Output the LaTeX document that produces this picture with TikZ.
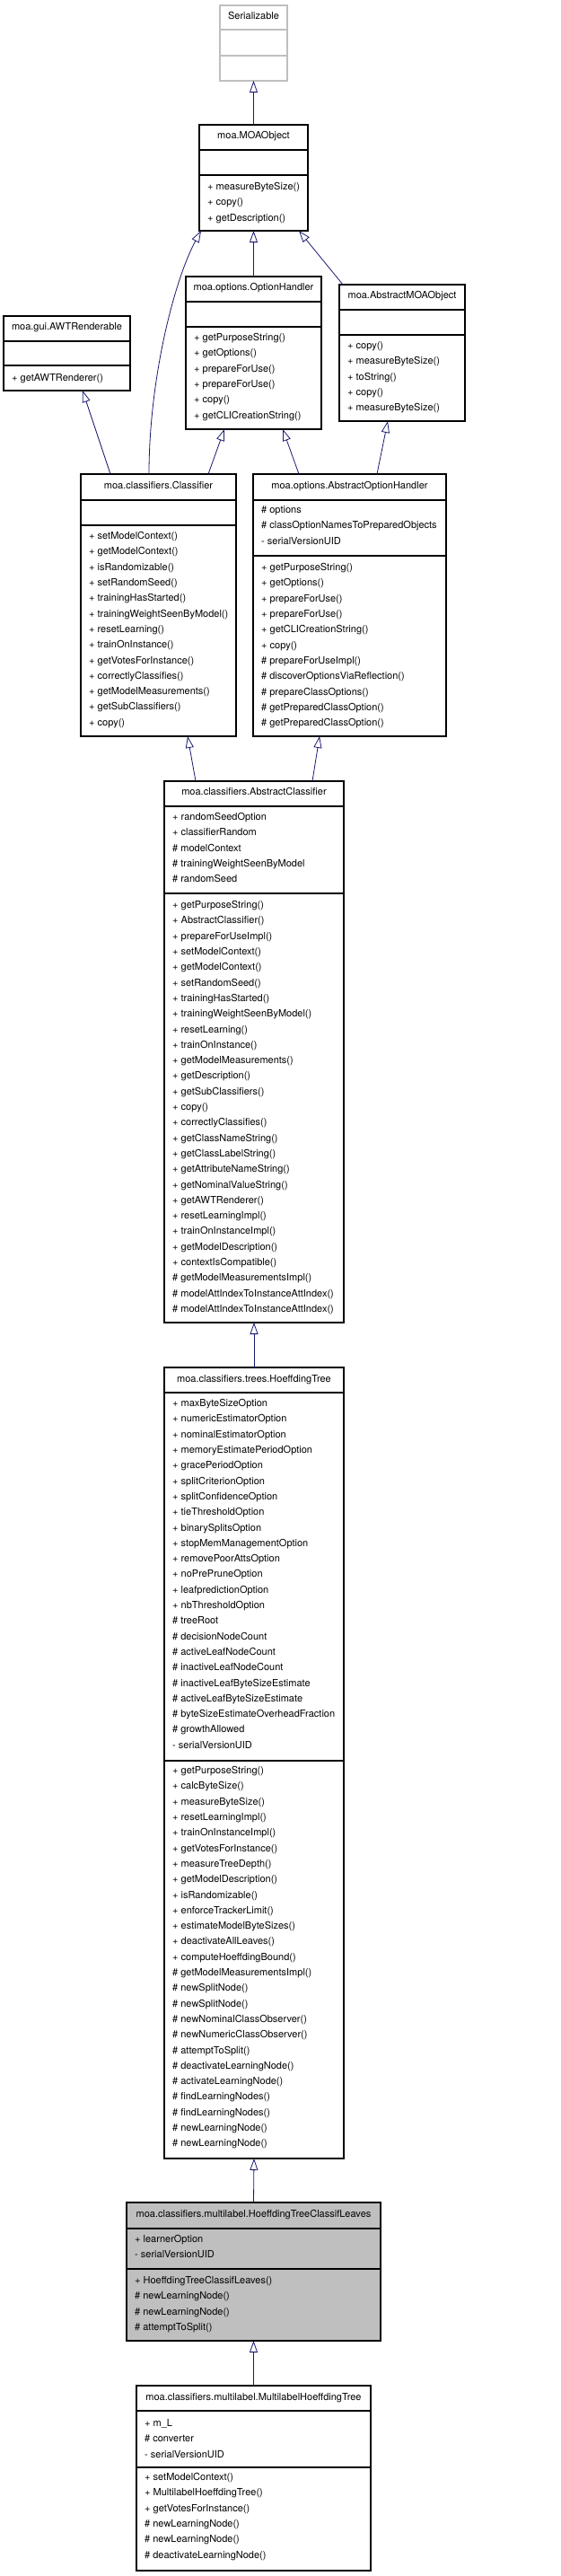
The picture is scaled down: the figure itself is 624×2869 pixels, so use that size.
\documentclass[tikz,border=0pt]{standalone}
\usepackage{fontspec}
\setmainfont{TeX Gyre Heros}
\usetikzlibrary{arrows.meta}
\definecolor{edgeblue}{HTML}{191970}
\definecolor{greyseventyfive}{HTML}{BFBFBF}
\newcommand\umlbox[6]{\node[cbox,#6,minimum width={#4-#2},minimum height={#5-#3}] (#1) at ({(#2+#4)/2},{(#3+#5)/2}) {};}
\newcommand\divline[4][black]{\draw[divl,draw=#1] (#2,#4) -- (#3,#4);}
\newcommand\umltitle[4]{\node[ttext] (#1) at (#2,#3) {#4};}
\newcommand\members[4]{\foreach \t [count=\i] in {#4} {\node[mtext] (#1\i) at (#2,{#3+(\i-1)*17.3}) {\t};}}
\begin{document}
\begin{tikzpicture}[x=1pt,y=-1pt,
  cbox/.style={draw=black,line width=1.1pt,inner sep=0pt,outer sep=0pt,anchor=center},
  divl/.style={line width=1.1pt},
  ttext/.style={inner sep=0pt,anchor=mid,font=\fontsize{11}{13}\selectfont},
  mtext/.style={inner sep=0pt,anchor=mid west,font=\fontsize{11}{13}\selectfont},
  inh/.style={draw=edgeblue,line width=0.8pt,-{Triangle[open,length=13pt,width=9pt]}}]
\useasboundingbox (0,0) rectangle (624,2869);
% Serializable
\umlbox{ser}{245}{6}{320}{90}{draw=greyseventyfive}
\umltitle{sert}{282.5}{19}{Serializable}
\divline[greyseventyfive]{245}{320}{33}
\divline[greyseventyfive]{245}{320}{62}
% MOAObject
\umlbox{moa}{222}{139}{343}{257}{}
\umltitle{moat}{282.5}{152}{moa.MOAObject}
\divline{222}{343}{167}
\divline{222}{343}{195}
\members{moam}{231}{209}{+ measureByteSize(),+ copy(),+ getDescription()}
% OptionHandler
\umlbox{oh}{207}{308}{358}{478}{}
\umltitle{oht}{282.5}{321}{moa.options.OptionHandler}
\divline{207}{358}{336}
\divline{207}{358}{364}
\members{ohm}{216}{377}{+ getPurposeString(),+ getOptions(),+ prepareForUse(),+ prepareForUse(),+ copy(),+ getCLICreationString()}
% AbstractMOAObject
\umlbox{amo}{378}{317}{518}{469}{}
\umltitle{amot}{448}{330}{moa.AbstractMOAObject}
\divline{378}{518}{345}
\divline{378}{518}{373}
\members{amom}{387}{386}{+ copy(),+ measureByteSize(),+ toString(),+ copy(),+ measureByteSize()}
% AWTRenderable
\umlbox{awt}{4}{352}{145}{435}{}
\umltitle{awtt}{74.5}{365}{moa.gui.AWTRenderable}
\divline{4}{145}{380}
\divline{4}{145}{407}
\members{awtm}{13}{422}{+ getAWTRenderer()}
% Classifier
\umlbox{cls}{90}{528}{263}{820}{}
\umltitle{clst}{176.5}{542}{moa.classifiers.Classifier}
\divline{90}{263}{557}
\divline{90}{263}{585}
\members{clsm}{99}{598}{+ setModelContext(),+ getModelContext(),+ isRandomizable(),+ setRandomSeed(),+ trainingHasStarted(),+ trainingWeightSeenByModel(),+ resetLearning(),+ trainOnInstance(),+ getVotesForInstance(),+ correctlyClassifies(),+ getModelMeasurements(),+ getSubClassifiers(),+ copy()}
% AbstractOptionHandler
\umlbox{aoh}{282}{528}{497}{820}{}
\umltitle{aoht}{389.5}{542}{moa.options.AbstractOptionHandler}
\divline{282}{497}{557}
\divline{282}{497}{619}
\members{aoha}{291}{569}{\# options,\# classOptionNamesToPreparedObjects,- serialVersionUID}
\members{aohm}{291}{633}{+ getPurposeString(),+ getOptions(),+ prepareForUse(),+ prepareForUse(),+ getCLICreationString(),+ copy(),\# prepareForUseImpl(),\# discoverOptionsViaReflection(),\# prepareClassOptions(),\# getPreparedClassOption(),\# getPreparedClassOption()}
% AbstractClassifier
\umlbox{ac}{183}{870}{383}{1473}{}
\umltitle{act}{283}{883}{moa.classifiers.AbstractClassifier}
\divline{183}{383}{898}
\divline{183}{383}{995}
\members{aca}{192}{911}{+ randomSeedOption,+ classifierRandom,\# modelContext,\# trainingWeightSeenByModel,\# randomSeed}
\members{acm}{192}{1009}{+ getPurposeString(),+ AbstractClassifier(),+ prepareForUseImpl(),+ setModelContext(),+ getModelContext(),+ setRandomSeed(),+ trainingHasStarted(),+ trainingWeightSeenByModel(),+ resetLearning(),+ trainOnInstance(),+ getModelMeasurements(),+ getDescription(),+ getSubClassifiers(),+ copy(),+ correctlyClassifies(),+ getClassNameString(),+ getClassLabelString(),+ getAttributeNameString(),+ getNominalValueString(),+ getAWTRenderer(),+ resetLearningImpl(),+ trainOnInstanceImpl(),+ getModelDescription(),+ contextIsCompatible(),\# getModelMeasurementsImpl(),\# modelAttIndexToInstanceAttIndex(),\# modelAttIndexToInstanceAttIndex()}
% HoeffdingTree
\umlbox{ht}{183}{1523}{383}{2404}{}
\umltitle{htt}{283}{1537}{moa.classifiers.trees.HoeffdingTree}
\divline{183}{383}{1551}
\divline{183}{383}{1961}
\members{hta}{192}{1564}{+ maxByteSizeOption,+ numericEstimatorOption,+ nominalEstimatorOption,+ memoryEstimatePeriodOption,+ gracePeriodOption,+ splitCriterionOption,+ splitConfidenceOption,+ tieThresholdOption,+ binarySplitsOption,+ stopMemManagementOption,+ removePoorAttsOption,+ noPrePruneOption,+ leafpredictionOption,+ nbThresholdOption,\# treeRoot,\# decisionNodeCount,\# activeLeafNodeCount,\# inactiveLeafNodeCount,\# inactiveLeafByteSizeEstimate,\# activeLeafByteSizeEstimate,\# byteSizeEstimateOverheadFraction,\# growthAllowed,- serialVersionUID}
\members{htm}{192}{1973}{+ getPurposeString(),+ calcByteSize(),+ measureByteSize(),+ resetLearningImpl(),+ trainOnInstanceImpl(),+ getVotesForInstance(),+ measureTreeDepth(),+ getModelDescription(),+ isRandomizable(),+ enforceTrackerLimit(),+ estimateModelByteSizes(),+ deactivateAllLeaves(),+ computeHoeffdingBound(),\# getModelMeasurementsImpl(),\# newSplitNode(),\# newSplitNode(),\# newNominalClassObserver(),\# newNumericClassObserver(),\# attemptToSplit(),\# deactivateLearningNode(),\# activateLearningNode(),\# findLearningNodes(),\# findLearningNodes(),\# newLearningNode(),\# newLearningNode()}
% HoeffdingTreeClassifLeaves
\umlbox{htcl}{141}{2453}{424}{2607}{fill=greyseventyfive}
\umltitle{htclt}{282.5}{2467}{moa.classifiers.multilabel.HoeffdingTreeClassifLeaves}
\divline{141}{424}{2482}
\divline{141}{424}{2527}
\members{htcla}{150}{2495}{+ learnerOption,- serialVersionUID}
\members{htclm}{150}{2541}{+ HoeffdingTreeClassifLeaves(),\# newLearningNode(),\# newLearningNode(),\# attemptToSplit()}
% MultilabelHoeffdingTree
\umlbox{mht}{152}{2657}{413}{2863}{}
\umltitle{mhtt}{282.5}{2671}{moa.classifiers.multilabel.MultilabelHoeffdingTree}
\divline{152}{413}{2685}
\divline{152}{413}{2748}
\members{mhta}{161}{2700}{+ m\_L,\# converter,- serialVersionUID}
\members{mhtm}{161}{2760}{+ setModelContext(),+ MultilabelHoeffdingTree(),+ getVotesForInstance(),\# newLearningNode(),\# newLearningNode(),\# deactivateLearningNode()}
% inheritance connectors
\draw[inh] (moa.north) -- (ser.south);
\draw[inh] (oh.north) -- (moa.south);
\draw[inh] ([xshift=4pt]amo.north west) -- ([xshift=111pt]moa.south west);
\draw[inh] ([xshift=76pt]cls.north west) .. controls ([xshift=76pt,yshift=108pt]cls.north west) and ([xshift=-27pt,yshift=-53pt]moa.south west) .. ([xshift=2pt]moa.south west);
\draw[inh] ([xshift=33pt]cls.north west) -- ([xshift=88pt]awt.south west);
\draw[inh] ([xshift=142pt]cls.north west) -- ([xshift=43pt]oh.south west);
\draw[inh] ([xshift=51pt]aoh.north west) -- ([xshift=108pt]oh.south west);
\draw[inh] ([xshift=138pt]aoh.north west) -- ([xshift=54pt]amo.south west);
\draw[inh] ([xshift=35pt]ac.north west) -- ([xshift=119pt]cls.south west);
\draw[inh] ([xshift=165pt]ac.north west) -- ([xshift=74pt]aoh.south west);
\draw[inh] (ht.north) -- (ac.south);
\draw[inh] (htcl.north) -- (ht.south);
\draw[inh] (mht.north) -- (htcl.south);
\end{tikzpicture}
\end{document}
